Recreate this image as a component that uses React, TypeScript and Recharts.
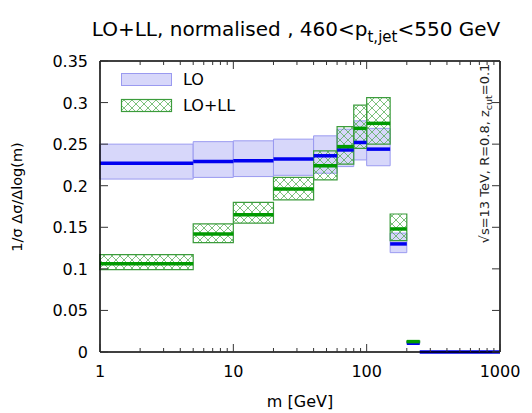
import React from "react";
import { ComposedChart, XAxis, YAxis, ReferenceArea, ReferenceLine } from "recharts";

// histogram bin edges, m [GeV]
const binEdges = [1, 5, 10, 20, 40, 60, 80, 100, 150, 200, 250, 1000];

// LO: central value and uncertainty band per bin
const loCentral = [0.227, 0.229, 0.23, 0.232, 0.236, 0.243, 0.252, 0.244, 0.13, 0.0105, 0];
const loLow = [0.208, 0.21, 0.211, 0.2125, 0.215, 0.223, 0.231, 0.224, 0.1195, 0.0098, 0];
const loHigh = [0.25, 0.253, 0.254, 0.256, 0.26, 0.268, 0.278, 0.269, 0.143, 0.0112, 0];

// LO+LL: central value and uncertainty band per bin (last bin empty)
const lollCentral = [0.106, 0.142, 0.165, 0.196, 0.224, 0.247, 0.269, 0.275, 0.148, 0.0125];
const lollLow = [0.099, 0.1315, 0.155, 0.183, 0.207, 0.226, 0.245, 0.25, 0.134, 0.0118];
const lollHigh = [0.117, 0.154, 0.18, 0.21, 0.242, 0.271, 0.297, 0.306, 0.166, 0.0132];

const xMajorTicks = [1, 10, 100, 1000];
const xMinorTicks = [2, 3, 4, 5, 6, 7, 8, 9, 20, 30, 40, 50, 60, 70, 80, 90, 200, 300, 400, 500, 600, 700, 800, 900];
const yTicks = [0, 0.05, 0.1, 0.15, 0.2, 0.25, 0.3, 0.35];
const yTickLabels = ["0", "0.05", "0.1", "0.15", "0.2", "0.25", "0.3", "0.35"];

const FONT = "'DejaVu Sans', Verdana, sans-serif";
const TICK = "#333";

const toBins = (c: number[], lo: number[], hi: number[]) =>
  c.map((v, i) => ({ x1: binEdges[i], x2: binEdges[i + 1], v, lo: lo[i], hi: hi[i] }));

const loBins = toBins(loCentral, loLow, loHigh);
const lollBins = toBins(lollCentral, lollLow, lollHigh);

// one row per bin, keyed on the lower edge
const rows = loBins.map((b, i) => ({ x: b.x1, lo: b.v, loll: lollCentral[i] ?? null }));

const xTicks = [...xMajorTicks, ...xMinorTicks].sort((a, b) => a - b);

function BottomTick({ x, y, payload }: any) {
  const major = xMajorTicks.includes(payload.value);
  return (
    <g>
      <line x1={x} x2={x} y1={y} y2={y - (major ? 8 : 4)} stroke={TICK} />
      {major && (
        <text x={x} y={y + 25} textAnchor="middle" fontSize={16} fontFamily={FONT} fill="#000">
          {payload.value}
        </text>
      )}
    </g>
  );
}

function TopTick({ x, y, payload }: any) {
  const major = xMajorTicks.includes(payload.value);
  return <line x1={x} x2={x} y1={y} y2={y + (major ? 8 : 4)} stroke={TICK} />;
}

function LeftTick({ x, y, payload }: any) {
  const i = yTicks.indexOf(payload.value);
  return (
    <g>
      <line x1={x} x2={x + 8} y1={y} y2={y} stroke={TICK} />
      <text x={x - 12} y={y + 6} textAnchor="end" fontSize={16} fontFamily={FONT} fill="#000">
        {yTickLabels[i]}
      </text>
    </g>
  );
}

function RightTick({ x, y }: any) {
  return <line x1={x} x2={x - 8} y1={y} y2={y} stroke={TICK} />;
}

const axisLine = { stroke: "#000", strokeWidth: 1.5 };

export default function App() {
  return (
    <div style={{ position: "absolute", left: 0, top: 0, width: 532, height: 413, background: "#fff" }}>
      <ComposedChart width={532} height={413} margin={{ top: 60, right: 31, bottom: 60, left: 99 }} data={rows}>
        <defs>
          <pattern id="hatch" patternUnits="userSpaceOnUse" width={8} height={8}>
            <path d="M0,0 L8,8 M8,0 L0,8" stroke="#4aa84a" strokeWidth={0.9} strokeOpacity={0.8} />
          </pattern>
        </defs>
        <XAxis
          type="number"
          dataKey="x"
          scale="log"
          domain={[1, 1000]}
          allowDataOverflow
          ticks={xTicks}
          interval={0}
          height={1}
          tickSize={0}
          tickMargin={0}
          tick={BottomTick}
          tickLine={false}
          axisLine={axisLine}
        />
        <XAxis
          xAxisId="top"
          orientation="top"
          type="number"
          dataKey="x"
          scale="log"
          domain={[1, 1000]}
          allowDataOverflow
          ticks={xTicks}
          interval={0}
          height={1}
          tickSize={0}
          tickMargin={0}
          tick={TopTick}
          tickLine={false}
          axisLine={axisLine}
        />
        <YAxis
          type="number"
          domain={[0, 0.35]}
          allowDataOverflow
          ticks={yTicks}
          interval={0}
          width={1}
          tickSize={0}
          tickMargin={0}
          tick={LeftTick}
          tickLine={false}
          axisLine={axisLine}
        />
        <YAxis
          yAxisId="right"
          orientation="right"
          type="number"
          domain={[0, 0.35]}
          allowDataOverflow
          ticks={yTicks}
          interval={0}
          width={1}
          tickSize={0}
          tickMargin={0}
          tick={RightTick}
          tickLine={false}
          axisLine={axisLine}
        />

        {loBins.map((b, i) => (
          <ReferenceArea
            key={`lo-band-${i}`}
            x1={b.x1}
            x2={b.x2}
            y1={b.lo}
            y2={b.hi}
            fill="#d7d7fa"
            fillOpacity={1}
            stroke="#9a9af0"
            strokeWidth={1}
          />
        ))}
        {lollBins.map((b, i) => (
          <ReferenceArea
            key={`loll-band-${i}`}
            x1={b.x1}
            x2={b.x2}
            y1={b.lo}
            y2={b.hi}
            fill="url(#hatch)"
            fillOpacity={1}
            stroke="#3c9c3c"
            strokeWidth={1.2}
          />
        ))}
        {loBins.map((b, i) => (
          <ReferenceLine
            key={`lo-line-${i}`}
            segment={[
              { x: b.x1, y: b.v },
              { x: b.x2, y: b.v },
            ]}
            stroke="#0000f0"
            strokeWidth={3.5}
          />
        ))}
        {lollBins.map((b, i) => (
          <ReferenceLine
            key={`loll-line-${i}`}
            segment={[
              { x: b.x1, y: b.v },
              { x: b.x2, y: b.v },
            ]}
            stroke="#009a00"
            strokeWidth={3.5}
          />
        ))}
      </ComposedChart>

      <svg
        width={532}
        height={413}
        style={{ position: "absolute", left: 0, top: 0, pointerEvents: "none" }}
        fontFamily={FONT}
      >
        <defs>
          <pattern id="hatch-key" patternUnits="userSpaceOnUse" width={8} height={8}>
            <path d="M0,0 L8,8 M8,0 L0,8" stroke="#4aa84a" strokeWidth={0.9} strokeOpacity={0.8} />
          </pattern>
        </defs>
        <text x={296} y={36} textAnchor="middle" fontSize={20} fill="#000">
          LO+LL, normalised , 460&lt;p
          <tspan fontSize={15} dy={6}>t,jet</tspan>
          <tspan dy={-6}>&lt;550 GeV</tspan>
        </text>

        {/* key */}
        <rect x={121.5} y={73.5} width={50} height={12} fill="#d7d7fa" stroke="#9a9af0" />
        <text x={183} y={85} fontSize={16} fill="#000">LO</text>
        <rect x={121.5} y={99.5} width={50} height={12} fill="url(#hatch-key)" stroke="#3c9c3c" strokeWidth={1.2} />
        <text x={183} y={111} fontSize={16} fill="#000">LO+LL</text>

        <text transform="translate(22,197) rotate(-90)" textAnchor="middle" fontSize={14.5} fill="#000">
          1/σ Δσ/Δlog(m)
        </text>
        <text x={300} y={406.5} textAnchor="middle" fontSize={16} fill="#000">
          m [GeV]
        </text>
        <text transform="translate(489,153.5) rotate(-90)" textAnchor="middle" fontSize={13} fill="#222">
          √s=13 TeV, R=0.8, z
          <tspan fontSize={9.5} dy={3}>cut</tspan>
          <tspan dy={-3}>=0.1</tspan>
        </text>
      </svg>
    </div>
  );
}
